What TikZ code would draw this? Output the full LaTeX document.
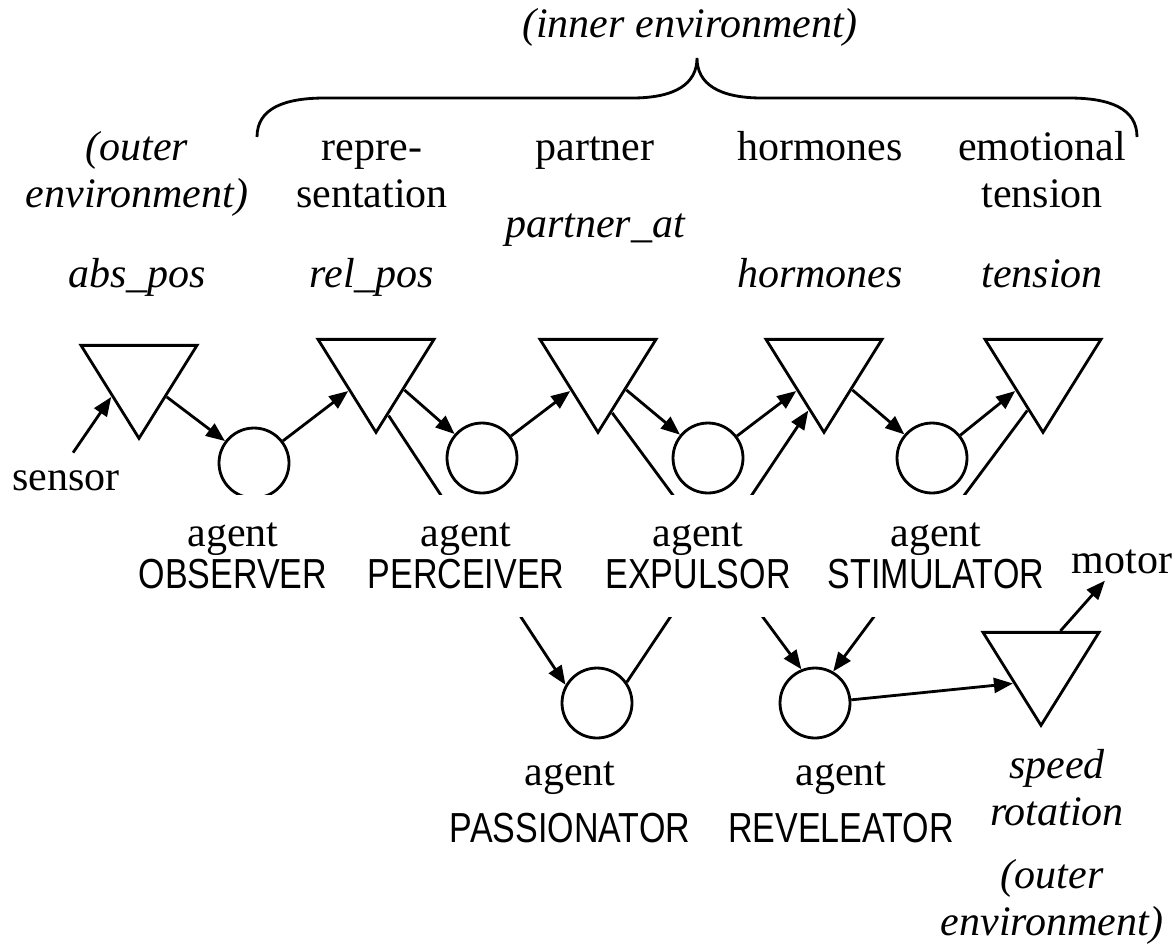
\documentclass[tikz,border=0pt]{standalone}
\usepackage{fontspec}
\setmainfont{Liberation Serif}
\newfontfamily\agentfont[FakeStretch=0.81]{Liberation Sans}
\usetikzlibrary{arrows.meta, positioning, shapes.geometric}

\begin{document}
\begin{tikzpicture}[
    x=0.02cm, y=-0.02cm,
    line width=1.6pt,
    every node/.style={align=center, font=\fontsize{23.9}{26.7}\selectfont},
    var/.style={isosceles triangle, isosceles triangle stretches, shape border rotate=270, draw, minimum width=2.32cm, minimum height=1.86cm, inner sep=0pt, anchor=apex},
    agent/.style={circle, draw, minimum size=1.4cm, inner sep=0pt},
    agentname/.style={fill=white, inner xsep=2pt, minimum height=2.44cm},
    hdr/.style={anchor=base},
    varname/.style={anchor=base, font=\fontsize{23.9}{26.7}\selectfont\itshape},
    arrow/.style={-{Triangle[length=0.38cm, width=0.3cm]}}
]
\useasboundingbox (0,0) rectangle (1175,947);

% Headers
\node[varname] (inner) at (690,37) {(inner environment)};
\draw (257,137) .. controls (257,108) and (285,98) .. (325,98) -- (632,98)
      .. controls (675,98) and (697,84) .. (697,58)
      .. controls (697,84) and (719,98) .. (762,98) -- (1069,98)
      .. controls (1109,98) and (1137,108) .. (1137,137);
\node[varname] (outerenv) at (137,207) {(outer\\environment)};
\node[hdr] (repr) at (372,207) {repre-\\sentation};
\node[hdr] (partner) at (595,160) {partner};
\node[hdr] (hormones) at (820,160) {hormones};
\node[hdr] (emotion) at (1042,207) {emotional\\tension};
\node[varname] (partnerat) at (595,237) {partner\_at};
\node[varname] (abspos) at (137,287) {abs\_pos};
\node[varname] (relpos) at (372,287) {rel\_pos};
\node[varname] (hormvar) at (820,287) {hormones};
\node[varname] (tensvar) at (1042,287) {tension};

% Variables and agents
\node[var] (t1) at (139,442) {};
\node[var] (t2) at (376,436) {};
\node[var] (t3) at (598,436) {};
\node[var] (t4) at (824,436) {};
\node[var] (t5) at (1043,436) {};
\node[var] (t6) at (1041,729) {};
\node[agent] (c1) at (254,463) {};
\node[agent] (c2) at (482,458) {};
\node[agent] (c3) at (708,458) {};
\node[agent] (c4) at (932,458) {};
\node[agent] (c5) at (597,703) {};
\node[agent] (c6) at (815,703) {};
\node[hdr] (sensor) at (66,490) {sensor};
\node[hdr] (motor) at (1122,573) {motor};

% Connections
\draw[arrow, shorten <=0.25cm] (sensor.north) -- (t1.215);
\draw[arrow] (t1.-35) -- (c1);
\draw[arrow] (c1) -- (t2.215);
\draw[arrow] (t2.-33) -- (c2);
\draw[arrow] (c2) -- (t3.215);
\draw[arrow] (t3.-33) -- (c3);
\draw[arrow] (c3) -- (t4.215);
\draw[arrow] (t4.-33) -- (c4);
\draw[arrow] (c4) -- (t5.215);
\draw[arrow] (t2.-74) -- (c5.150);
\draw[arrow] (c5.35) -- (t4.248);
\draw[arrow] (t3.-71) -- (c6.112);
\draw[arrow] (t5.248) -- (c6.60);
\draw[arrow] (c6.5) -- (t6.214);
\draw[arrow] (t6.60) -- (motor);

% Agent names
\node[agentname] (observer) at (233,556) {agent\\[-3pt]{\agentfont OBSERVER}};
\node[agentname] (perceiver) at (466,556) {agent\\[-3pt]{\agentfont PERCEIVER}};
\node[agentname] (expulsor) at (698,556) {agent\\[-3pt]{\agentfont EXPULSOR}};
\node[agentname] (stimulator) at (936,556) {agent\\[-3pt]{\agentfont STIMULATOR}};
\node (passionator) at (570,802) {agent\\[5.6pt]{\agentfont PASSIONATOR}};
\node (reveleator) at (841,802) {agent\\[5.6pt]{\agentfont REVELEATOR}};
\node[varname] (speedrot) at (1057,825) {speed\\rotation};
\node[varname] (outerenv2) at (1052,935) {(outer\\environment)};
\end{tikzpicture}
\end{document}
